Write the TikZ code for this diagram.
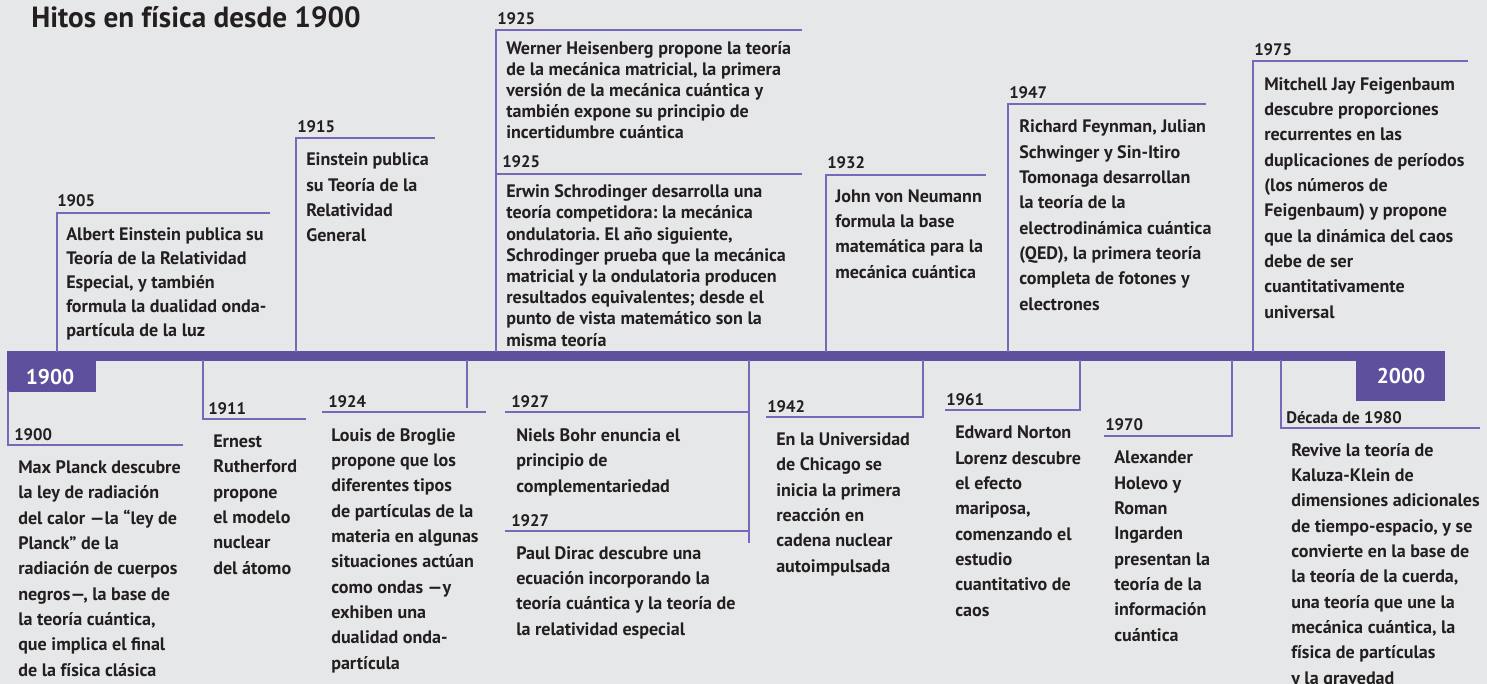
\documentclass[tikz,border=0pt]{standalone}
\usepackage{fontspec}
\setmainfont{PT Sans}
\frenchspacing
\usetikzlibrary{positioning}
\definecolor{paper}{RGB}{230,231,232}
\definecolor{tlpurple}{RGB}{95,80,158}
\definecolor{leaderpurple}{RGB}{120,104,184}
\definecolor{ink}{RGB}{35,31,32}
\begin{document}
\begin{tikzpicture}[
x = 0.75pt, y = -0.75pt,
every node/.style = {
	font = \bfseries,
	text = ink,
	inner sep = 0pt
},
title/.style = {
	anchor = base west,
	font = \bfseries\fontsize{21.9}{26}\selectfont
},
timeline/.style = {
	fill = tlpurple
},
yearbox/.style = {
	anchor = base,
	text = white,
	font = \bfseries\fontsize{16}{19}\selectfont
},
leader/.style = {
	draw = leaderpurple,
	line width = 1pt
},
year/.style = {
	anchor = base west,
	font = \bfseries\fontsize{12.5}{15}\selectfont
},
event/.style = {
	anchor = base west,
	align = left,
	font = \bfseries\fontsize{13.55}{19}\selectfont
},
tight event/.style = {
	event,
	font = \bfseries\fontsize{13.55}{15.9}\selectfont
},
loose event/.style = {
	event,
	font = \bfseries\fontsize{13.55}{18}\selectfont
}
]

\useasboundingbox (0,0) rectangle (1487,684);
\fill[paper] (0,0) rectangle (1487,684);
\clip (0,0) rectangle (1487,684);

\node[title] (title) at (31,28) {Hitos en física desde 1900};

\fill[timeline] (7,351) rectangle (1445,361);
\fill[timeline] (7,351) rectangle (96,392);
\fill[timeline] (1356,351) rectangle (1445,401);
\node[yearbox] (start) at (50,384) {1900};
\node[yearbox] (end) at (1401,383) {2000};

% above the line
\coordinate (relesp s) at (57,352);
\coordinate (relesp l) at (57,213);
\coordinate (relesp r) at (270,213);
\coordinate (relgen s) at (296,352);
\coordinate (relgen l) at (296,138);
\coordinate (relgen r) at (435,138);
\coordinate (heisenberg s) at (496,352);
\coordinate (heisenberg l) at (496,30);
\coordinate (heisenberg r) at (802,30);
\coordinate (schrodinger l) at (496,174);
\coordinate (schrodinger r) at (802,174);
\coordinate (neumann s) at (826,352);
\coordinate (neumann l) at (826,175);
\coordinate (neumann r) at (986,175);
\coordinate (qed s) at (1008,352);
\coordinate (qed l) at (1008,104);
\coordinate (qed r) at (1206,104);
\coordinate (feigenbaum s) at (1253,352);
\coordinate (feigenbaum l) at (1253,61);
\coordinate (feigenbaum r) at (1468,61);

\foreach \ev in {relesp, relgen, heisenberg, neumann, qed, feigenbaum} {
	\draw[leader] (\ev\space s) -- (\ev\space l) -- (\ev\space r);
}
\draw[leader] (schrodinger l) -- (schrodinger r);

\node[year] (relesp yr) at (57,207) {1905};
\node[loose event] (relesp) at (66,336) {Albert Einstein publica su\\Teoría de la Relatividad\\Especial, y también\\formula la dualidad onda-\\partícula de la luz};

\node[year] (relgen yr) at (297,133) {1915};
\node[event] (relgen) at (306,242) {Einstein publica\\su Teoría de la\\Relatividad\\General};

\node[year] (heisenberg yr) at (497,25) {1925};
\node[tight event] (heisenberg) at (506,139) {Werner Heisenberg propone la teoría\\de la mecánica matricial, la primera\\versión de la mecánica cuántica y\\también expone su principio de\\incertidumbre cuántica};

\node[year] (schrodinger yr) at (502,168) {1925};
\node[tight event] (schrodinger) at (506,346) {Erwin Schrodinger desarrolla una\\teoría competidora: la mecánica\\ondulatoria. El año siguiente,\\Schrodinger prueba que la mecánica\\matricial y la ondulatoria producen\\resultados equivalentes; desde el\\punto de vista matemático son la\\misma teoría};

\node[year] (neumann yr) at (827,169) {1932};
\node[event] (neumann) at (835,278) {John von Neumann\\formula la base\\matemática para la\\mecánica cuántica};

\node[year] (qed yr) at (1009,99) {1947};
\node[event] (qed) at (1019,310) {Richard Feynman, Julian\\Schwinger y Sin-Itiro\\Tomonaga desarrollan\\la teoría de la\\electrodinámica cuántica\\(QED), la primera teoría\\completa de fotones y\\electrones};

\node[year] (feigenbaum yr) at (1254,56) {1975};
\node[event] (feigenbaum) at (1264,318) {Mitchell Jay Feigenbaum\\descubre proporciones\\recurrentes en las\\duplicaciones de períodos\\(los números de\\Feigenbaum) y propone\\que la dinámica del caos\\debe de ser\\cuantitativamente\\universal};

% below the line
\coordinate (planck s) at (8,391);
\coordinate (planck l) at (8,445);
\coordinate (planck r) at (183,445);
\coordinate (rutherford s) at (203,360);
\coordinate (rutherford l) at (203,419);
\coordinate (rutherford r) at (306,419);
\coordinate (broglie s) at (467,360);
\coordinate (broglie e) at (467,408);
\coordinate (broglie l) at (322,412);
\coordinate (broglie r) at (486,412);
\coordinate (bohr s) at (749,360);
\coordinate (bohr e) at (749,543);
\coordinate (bohr l) at (505,412);
\coordinate (bohr r) at (749,412);
\coordinate (dirac l) at (505,531);
\coordinate (dirac r) at (749,531);
\coordinate (chicago s) at (923,360);
\coordinate (chicago l) at (766,417);
\coordinate (chicago r) at (923,417);
\coordinate (lorenz s) at (1080,360);
\coordinate (lorenz l) at (945,410);
\coordinate (lorenz r) at (1080,410);
\coordinate (holevo s) at (1232,360);
\coordinate (holevo l) at (1104,436);
\coordinate (holevo r) at (1232,436);
\coordinate (kaluza s) at (1281,360);
\coordinate (kaluza l) at (1281,428);
\coordinate (kaluza r) at (1480,428);

\draw[leader] (planck s) -- (planck l) -- (planck r);
\draw[leader] (rutherford s) -- (rutherford l) -- (rutherford r);
\draw[leader] (broglie s) -- (broglie e);
\draw[leader] (broglie l) -- (broglie r);
\draw[leader] (bohr s) -- (bohr e);
\draw[leader] (bohr l) -- (bohr r);
\draw[leader] (dirac l) -- (dirac r);
\draw[leader] (chicago s) -- (chicago r) -- (chicago l);
\draw[leader] (lorenz s) -- (lorenz r) -- (lorenz l);
\draw[leader] (holevo s) -- (holevo r) -- (holevo l);
\draw[leader] (kaluza s) -- (kaluza l) -- (kaluza r);

\node[year] (planck yr) at (14,440) {1900};
\node[event] (planck) at (18,676) {Max Planck descubre\\la ley de radiación\\del calor —la “ley de\\Planck” de la\\radiación de cuerpos\\negros—, la base de\\la teoría cuántica,\\que implica el final\\de la física clásica};

\node[year] (rutherford yr) at (208,414) {1911};
\node[event] (rutherford) at (213,574) {Ernest\\Rutherford\\propone\\el modelo\\nuclear\\del átomo};

\node[year] (broglie yr) at (328,407) {1924};
\node[event] (broglie) at (331,669) {Louis de Broglie\\propone que los\\diferentes tipos\\de partículas de la\\materia en algunas\\situaciones actúan\\como ondas —y\\exhiben una\\dualidad onda-\\partícula};

\node[year] (bohr yr) at (511,407) {1927};
\node[event] (bohr) at (516,492) {Niels Bohr enuncia el\\principio de\\complementariedad};

\node[year] (dirac yr) at (511,526) {1927};
\node[event] (dirac) at (516,635) {Paul Dirac descubre una\\ecuación incorporando la\\teoría cuántica y la teoría de\\la relatividad especial};

\node[year] (chicago yr) at (767,412) {1942};
\node[event] (chicago) at (776,572) {En la Universidad\\de Chicago se\\inicia la primera\\reacción en\\cadena nuclear\\autoimpulsada};

\node[year] (lorenz yr) at (946,405) {1961};
\node[event] (lorenz) at (955,616) {Edward Norton\\Lorenz descubre\\el efecto\\mariposa,\\comenzando el\\estudio\\cuantitativo de\\caos};

\node[year] (holevo yr) at (1105,430) {1970};
\node[event] (holevo) at (1114,641) {Alexander\\Holevo y\\Roman\\Ingarden\\presentan la\\teoría de la\\información\\cuántica};

\node[year] (kaluza yr) at (1286,423) {Década de 1980};
\node[event] (kaluza) at (1291,684) {Revive la teoría de\\Kaluza-Klein de\\dimensiones adicionales\\de tiempo-espacio, y se\\convierte en la base de\\la teoría de la cuerda,\\una teoría que une la\\mecánica cuántica, la\\física de partículas\\y la gravedad};

\end{tikzpicture}
\end{document}
